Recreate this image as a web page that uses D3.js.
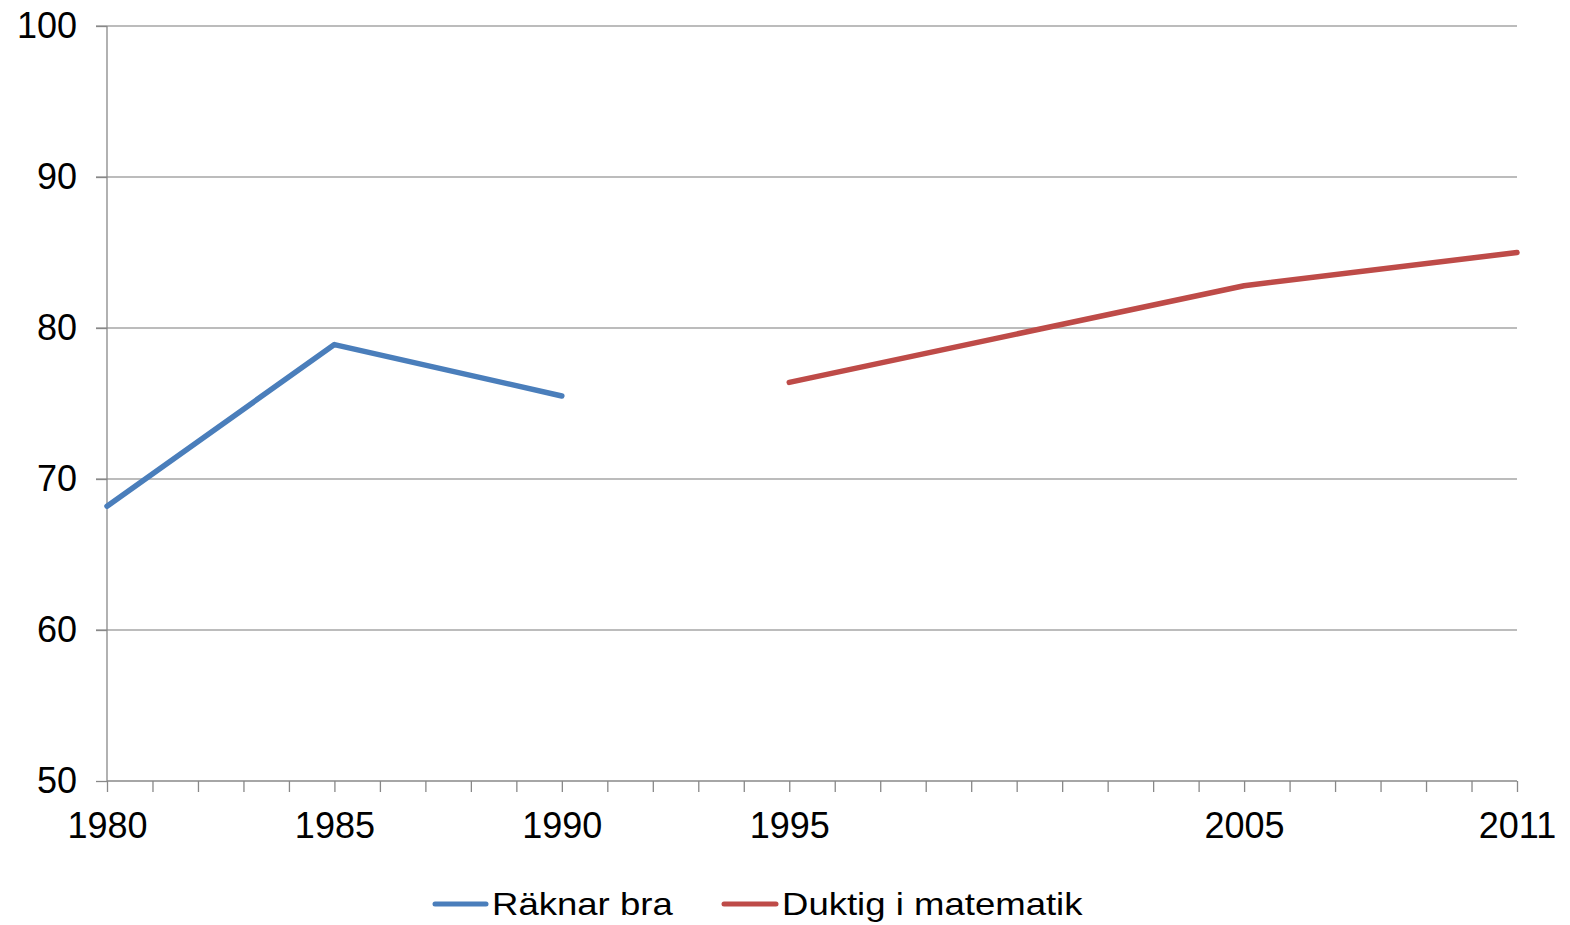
<!DOCTYPE html>
<html>
<head>
<meta charset="utf-8">
<script src="https://cdn.jsdelivr.net/npm/d3@7"></script>
<style>
  html, body { margin: 0; padding: 0; background: #fff; }
  svg { display: block; }
  text { font-family: "Liberation Sans", Arial, sans-serif; fill: #000; }
</style>
</head>
<body>
<svg id="chart" width="1570" height="925"></svg>
<script>
// ---- data ----
const seriesNames = ["Räknar bra", "Duktig i matematik"];
const seriesColors = ["#4a7ebb", "#be4b48"];
const raknarYears = [1980, 1985, 1990];
const raknarValues = [68.2, 78.9, 75.5];
const duktigYears = [1995, 2005, 2011];
const duktigValues = [76.4, 82.8, 85.0];
const xTickLabels = [1980, 1985, 1990, 1995, 2005, 2011];
const yTicks = [50, 60, 70, 80, 90, 100];

(function () {
// ---- layout ----
const svg = d3.select("#chart");
const mLeft = 107, mRight = 1517, mTop = 26, mBottom = 781;

const x = d3.scaleLinear().domain([1980, 2011]).range([mLeft, mRight]);
const y = d3.scaleLinear().domain([50, 100]).range([mBottom, mTop]);

const gridColor = "#a6a6a6";
const axisColor = "#888888";

// gridlines
svg.append("g").selectAll("line")
  .data(yTicks.filter(d => d !== 50))
  .join("line")
  .attr("x1", mLeft - 11).attr("x2", mRight)
  .attr("y1", d => y(d)).attr("y2", d => y(d))
  .attr("stroke", gridColor).attr("stroke-width", 1.3);

// y axis
const yAxis = d3.axisLeft(y).tickValues(yTicks).tickSize(11).tickPadding(19)
  .tickFormat(d3.format("d"));
const gy = svg.append("g").attr("transform", `translate(${mLeft},0)`).call(yAxis);
gy.select(".domain").attr("stroke", axisColor).attr("stroke-width", 1.3)
  .attr("d", `M0,${mBottom}V${mTop}`);
gy.selectAll(".tick line").attr("stroke", axisColor).attr("stroke-width", 1.3);
gy.selectAll(".tick text").attr("font-size", 36).attr("fill", "#000")
  .style("font-family", "'Liberation Sans', Arial, sans-serif");

// x axis
const allYears = d3.range(1980, 2012);
const xAxis = d3.axisBottom(x).tickValues(allYears).tickSize(11).tickPadding(20)
  .tickFormat(d => xTickLabels.includes(d) ? String(d) : "");
const gx = svg.append("g").attr("transform", `translate(0,${mBottom})`).call(xAxis);
gx.select(".domain").attr("stroke", axisColor).attr("stroke-width", 1.3)
  .attr("d", `M${mLeft},0H${mRight}`);
gx.selectAll(".tick line").attr("stroke", axisColor).attr("stroke-width", 1.3);
gx.selectAll(".tick text").attr("font-size", 36).attr("fill", "#000")
  .style("font-family", "'Liberation Sans', Arial, sans-serif");

// lines
const line = d3.line().x(d => x(d[0])).y(d => y(d[1]));
const series = [
  d3.zip(raknarYears, raknarValues),
  d3.zip(duktigYears, duktigValues)
];
svg.append("g").selectAll("path")
  .data(series)
  .join("path")
  .attr("d", line)
  .attr("fill", "none")
  .attr("stroke", (d, i) => seriesColors[i])
  .attr("stroke-width", 5.5)
  .attr("stroke-linejoin", "round")
  .attr("stroke-linecap", "round");

// legend
const legendItems = [
  { x1: 435, x2: 486, tx: 492 },
  { x1: 724, x2: 776, tx: 782 }
];
const lg = svg.append("g");
legendItems.forEach((it, i) => {
  lg.append("line")
    .attr("x1", it.x1).attr("x2", it.x2)
    .attr("y1", 904).attr("y2", 904)
    .attr("stroke", seriesColors[i]).attr("stroke-width", 5)
    .attr("stroke-linecap", "round");
  lg.append("text")
    .attr("transform", `translate(${it.tx},915) scale(1.16,1)`)
    .attr("font-size", 31.5)
    .text(seriesNames[i]);
});
})();
</script>
</body>
</html>
